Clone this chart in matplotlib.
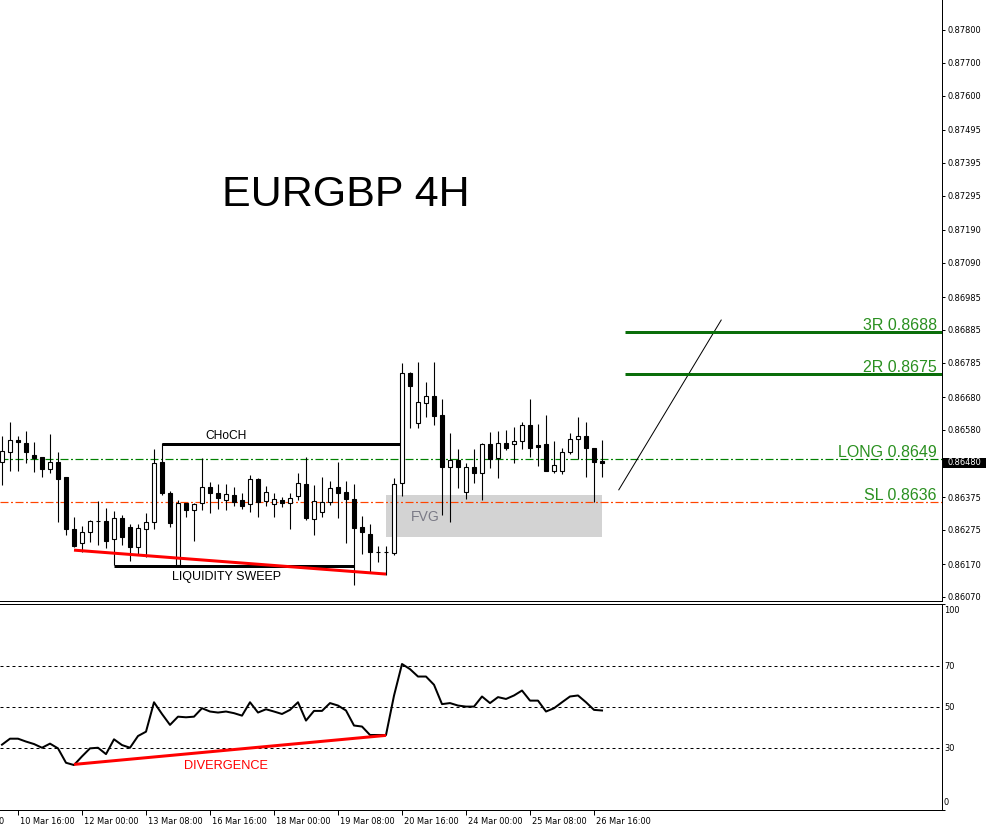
import matplotlib
matplotlib.use('Agg')
import matplotlib.pyplot as plt
import matplotlib.transforms as mtransforms
from matplotlib.patches import Rectangle
import numpy as np

# ---------------- data ----------------
opens = [0.86482, 0.86512, 0.86549, 0.86540, 0.86503, 0.86497, 0.86461, 0.86482, 0.86436, 0.86278,
         0.86235, 0.86268, 0.86302, 0.86302, 0.86247, 0.86311, 0.86284, 0.86223, 0.86278, 0.86299,
         0.86482, 0.86387, 0.86168, 0.86357, 0.86336, 0.86357, 0.86406, 0.86387, 0.86366, 0.86381,
         0.86366, 0.86354, 0.86430, 0.86363, 0.86354, 0.86366, 0.86357, 0.86378, 0.86415, 0.86308,
         0.86329, 0.86360, 0.86406, 0.86390, 0.86369, 0.86284, 0.86262, 0.86207, 0.86207, 0.86204,
         0.86418, 0.86754, 0.86601, 0.86662, 0.86683, 0.86625, 0.86467, 0.86488, 0.86390, 0.86467,
         0.86448, 0.86537, 0.86494, 0.86540, 0.86537, 0.86546, 0.86595, 0.86534, 0.86537, 0.86455,
         0.86455, 0.86512, 0.86552, 0.86561, 0.86525, 0.86485]
highs = [0.86561, 0.86604, 0.86561, 0.86577, 0.86543, 0.86497, 0.86567, 0.86512, 0.86436, 0.86314,
         0.86287, 0.86305, 0.86363, 0.86342, 0.86333, 0.86320, 0.86293, 0.86293, 0.86326, 0.86522,
         0.86540, 0.86394, 0.86366, 0.86357, 0.86357, 0.86494, 0.86421, 0.86415, 0.86415, 0.86406,
         0.86387, 0.86442, 0.86433, 0.86409, 0.86387, 0.86375, 0.86387, 0.86448, 0.86497, 0.86412,
         0.86436, 0.86424, 0.86482, 0.86424, 0.86415, 0.86317, 0.86293, 0.86226, 0.86226, 0.86433,
         0.86784, 0.86757, 0.86787, 0.86726, 0.86787, 0.86674, 0.86570, 0.86522, 0.86479, 0.86522,
         0.86540, 0.86573, 0.86577, 0.86580, 0.86589, 0.86604, 0.86674, 0.86598, 0.86625, 0.86546,
         0.86525, 0.86570, 0.86619, 0.86604, 0.86525, 0.86549]
lows = [0.86412, 0.86455, 0.86455, 0.86479, 0.86451, 0.86436, 0.86448, 0.86299, 0.86259, 0.86223,
        0.86207, 0.86238, 0.86229, 0.86220, 0.86168, 0.86229, 0.86180, 0.86201, 0.86192, 0.86278,
        0.86381, 0.86284, 0.86165, 0.86314, 0.86241, 0.86336, 0.86326, 0.86339, 0.86336, 0.86348,
        0.86339, 0.86329, 0.86314, 0.86348, 0.86314, 0.86345, 0.86278, 0.86366, 0.86305, 0.86259,
        0.86314, 0.86351, 0.86311, 0.86235, 0.86107, 0.86201, 0.86146, 0.86177, 0.86137, 0.86198,
        0.86378, 0.86586, 0.86586, 0.86619, 0.86595, 0.86320, 0.86299, 0.86403, 0.86369, 0.86418,
        0.86366, 0.86464, 0.86433, 0.86519, 0.86479, 0.86522, 0.86497, 0.86470, 0.86455, 0.86448,
        0.86445, 0.86506, 0.86491, 0.86436, 0.86360, 0.86436]
closes = [0.86516, 0.86549, 0.86543, 0.86512, 0.86494, 0.86461, 0.86482, 0.86430, 0.86278, 0.86226,
          0.86268, 0.86302, 0.86302, 0.86241, 0.86311, 0.86253, 0.86223, 0.86281, 0.86299, 0.86479,
          0.86387, 0.86296, 0.86357, 0.86336, 0.86354, 0.86406, 0.86387, 0.86372, 0.86384, 0.86360,
          0.86348, 0.86430, 0.86360, 0.86390, 0.86369, 0.86357, 0.86372, 0.86418, 0.86311, 0.86363,
          0.86360, 0.86403, 0.86387, 0.86369, 0.86281, 0.86268, 0.86207, 0.86207, 0.86207, 0.86415,
          0.86754, 0.86714, 0.86665, 0.86683, 0.86622, 0.86467, 0.86488, 0.86467, 0.86467, 0.86448,
          0.86537, 0.86491, 0.86540, 0.86525, 0.86546, 0.86595, 0.86525, 0.86528, 0.86455, 0.86473,
          0.86512, 0.86552, 0.86561, 0.86525, 0.86482, 0.86480]
rsi = [31.8, 34.7, 34.7, 33.3, 32.1, 30.3, 32.3, 30.0, 23.0, 21.9,
       26.1, 30.0, 30.3, 27.2, 34.4, 31.6, 30.3, 36.0, 38.1, 52.4,
       46.7, 41.4, 45.4, 45.1, 45.4, 49.5, 47.9, 47.4, 47.9, 47.1,
       45.9, 52.4, 47.4, 49.0, 47.9, 46.7, 48.7, 52.4, 43.5, 48.2,
       48.2, 52.0, 50.8, 48.4, 41.1, 40.6, 36.5, 36.5, 36.5, 55.6,
       71.0, 68.5, 64.9, 64.9, 60.9, 51.5, 52.0, 50.8, 50.3, 50.3,
       55.2, 52.0, 54.9, 54.0, 55.7, 58.1, 53.2, 53.2, 47.9, 49.5,
       52.4, 55.2, 55.7, 52.4, 48.7, 48.4]

time_tick_idx = [2, 10, 18, 26, 34, 42, 50, 58, 66, 74]
time_labels = ['10 Mar 16:00', '12 Mar 00:00', '13 Mar 08:00', '16 Mar 16:00', '18 Mar 00:00',
               '19 Mar 08:00', '20 Mar 16:00', '24 Mar 00:00', '25 Mar 08:00', '26 Mar 16:00']
price_ticks = [0.87800, 0.87700, 0.87600, 0.87495, 0.87395, 0.87295, 0.87190, 0.87090, 0.86985,
               0.86885, 0.86785, 0.86680, 0.86580, 0.86480, 0.86375, 0.86275, 0.86170, 0.86070]
price_tick_labels = ['0.87800', '0.87700', '0.87600', '0.87495', '0.87395', '0.87295', '0.87190',
                     '0.87090', '0.86985', '0.86885', '0.86785', '0.86680', '0.86580', '',
                     '0.86375', '0.86275', '0.86170', '0.86070']
rsi_levels = [30, 50, 70]
rsi_axis_labels = ['100', '70', '50', '30', '0']
rsi_axis_label_vals = [96.9, 70, 50, 30, 3.5]

last_price = 0.86480
long_price = 0.8649
sl_price = 0.8636
r2_price = 0.8675
r3_price = 0.8688
choch_price = 0.86537
choch_bars = (20, 49.75)
sweep_price = 0.86165
sweep_bars = (14, 44)
div_bars = (9, 48)
div_prices = (0.86213, 0.86140)
div_rsi = (22.2, 36.3)
fvg_bars = (48, 75)
fvg_prices = (0.86254, 0.86381)
proj_bars = (77.1, 89.9)
proj_prices = (0.86397, 0.86915)
target_start_bar = 77.9

# ---------------- layout ----------------
W, H, DPI = 986, 830, 100
PX = 72.0 / DPI
plt.rcParams['font.family'] = ['DejaVu Sans']
plt.rcParams['lines.scale_dashes'] = False

fig = plt.figure(figsize=(W / DPI, H / DPI), dpi=DPI)
PLOT_W = 942
ax_p = fig.add_axes([0, 1 - 601 / H, PLOT_W / W, 601 / H])
ax_r = fig.add_axes([0, 1 - 810.1 / H, PLOT_W / W, (810.1 - 604.3) / H])

xlim = (-0.25, -0.25 + PLOT_W / 8)
ppx = 3.0511e-5
ytop = 0.878915
ax_p.set_xlim(*xlim)
ax_p.set_ylim(ytop - 601 * ppx, ytop)
ax_r.set_xlim(*xlim)
ax_r.set_ylim(0, 100)

AX_FONT = 8.3 * PX
TXT_FONT = 'Liberation Sans'

for ax in (ax_p, ax_r):
    ax.set_facecolor('white')
    ax.spines['left'].set_visible(False)
    for s in ('right', 'bottom', 'top'):
        ax.spines[s].set_linewidth(PX)
        ax.spines[s].set_color('black')
ax_p.spines['top'].set_visible(False)

# ---- price pane ----
x = np.arange(len(opens))
o = np.array(opens); c = np.array(closes); h = np.array(highs); l = np.array(lows)
up = c >= o

dashdot = (0, (8 * PX, 2.5 * PX, 2 * PX, 2.5 * PX))

# FVG box
ax_p.add_patch(Rectangle((fvg_bars[0], fvg_prices[0]), fvg_bars[1] - fvg_bars[0],
                         fvg_prices[1] - fvg_prices[0], facecolor='#d3d3d3', edgecolor='none', zorder=1))
ax_p.text((fvg_bars[0] + fvg_bars[1]) / 2 - 8.6, 0.86314, 'FVG', family=TXT_FONT, fontsize=14 * PX,
          color='#7a7a86', ha='center', va='center', zorder=2)

ax_p.axhline(long_price, color='#008000', lw=1.2 * PX, ls=dashdot, zorder=2)
ax_p.axhline(sl_price, color='#ff4500', lw=1.2 * PX, ls=dashdot, zorder=2)

# candles
ax_p.vlines(x, l, h, color='black', lw=1.1 * PX, zorder=3)
ax_p.bar(x, np.abs(c - o), bottom=np.minimum(o, c), width=0.5,
         color=np.where(up, 'white', 'black'), edgecolor='black', linewidth=1.1 * PX, zorder=4)

# annotations
ax_p.plot(choch_bars, (choch_price, choch_price), color='black', lw=3 * PX, zorder=5,
          solid_capstyle='butt')
ax_p.plot(sweep_bars, (sweep_price, sweep_price), color='black', lw=3 * PX, zorder=5,
          solid_capstyle='butt')
ax_p.plot(div_bars, div_prices, color='#ff0000', lw=3 * PX, zorder=6, solid_capstyle='butt')
ax_p.text(28.06, 0.86561, 'CHoCH', family=TXT_FONT, fontsize=12 * PX, color='black',
          ha='center', va='center', zorder=6)
ax_p.text(28.06, 0.86131, 'LIQUIDITY SWEEP', family=TXT_FONT, fontsize=12.5 * PX, color='black',
          ha='center', va='center', zorder=6)

ax_p.plot(proj_bars, proj_prices, color='black', lw=PX, zorder=5)
ax_p.plot((target_start_bar, xlim[1]), (r3_price, r3_price), color='#0a6e0a', lw=3 * PX,
          zorder=5, solid_capstyle='butt')
ax_p.plot((target_start_bar, xlim[1]), (r2_price, r2_price), color='#0a6e0a', lw=3 * PX,
          zorder=5, solid_capstyle='butt')

lab_x = -0.25 + 937 / 8
green_txt = '#2a9020'
for price, txt in ((r3_price, '3R 0.8688'), (r2_price, '2R 0.8675'),
                   (long_price, 'LONG 0.8649'), (sl_price, 'SL 0.8636')):
    ax_p.text(lab_x, price + 2 * ppx, txt, family=TXT_FONT, fontsize=16 * PX, color=green_txt,
              ha='right', va='baseline', zorder=7)

ax_p.text(43.0, 0.872965, 'EURGBP 4H', family=TXT_FONT, fontsize=43 * PX, color='black',
          ha='center', va='center', zorder=7)

ax_p.set_xticks([])
ax_p.yaxis.tick_right()
ax_p.set_yticks(price_ticks)
ax_p.set_yticklabels(price_tick_labels)
ax_p.tick_params(axis='y', direction='out', length=3 * PX, width=PX, pad=2 * PX,
                 labelsize=AX_FONT, colors='black')

trans_p = mtransforms.blended_transform_factory(ax_p.transAxes, ax_p.transData)
ax_p.add_patch(Rectangle((1.0, last_price - 5 * ppx), 46 / PLOT_W, 10 * ppx, transform=trans_p,
                         facecolor='black', edgecolor='none', clip_on=False, zorder=10))
ax_p.text(1.0 + 5 / PLOT_W, last_price, '0.86480', transform=trans_p, color='white',
          fontsize=AX_FONT, ha='left', va='center', clip_on=False, zorder=11)

# ---- RSI pane ----
for lv in rsi_levels:
    ax_r.axhline(lv, color='black', lw=PX, ls=(0, (3 * PX, 3 * PX)), zorder=1)
ax_r.plot(x, rsi, color='black', lw=2 * PX, zorder=3)
ax_r.plot(div_bars, div_rsi, color='#ff0000', lw=3 * PX, zorder=4, solid_capstyle='butt')
ax_r.text(28.0, 21.5, 'DIVERGENCE', family=TXT_FONT, fontsize=12.8 * PX, color='#ff0000',
          ha='center', va='center', zorder=5)

ax_r.yaxis.tick_right()
ax_r.set_yticks([0, 100])
ax_r.set_yticklabels([])
ax_r.tick_params(axis='y', direction='out', length=3 * PX, width=PX)
trans_r = mtransforms.blended_transform_factory(ax_r.transAxes, ax_r.transData)
for lab, v in zip(rsi_axis_labels, rsi_axis_label_vals):
    ax_r.text(1.0 + 2 / PLOT_W, v, lab, transform=trans_r, fontsize=AX_FONT, color='black',
              ha='left', va='center', clip_on=False)

ax_r.set_xticks(time_tick_idx)
ax_r.set_xticklabels(time_labels, ha='left')
ax_r.tick_params(axis='x', direction='out', length=5 * PX, width=PX, pad=2 * PX,
                 labelsize=AX_FONT, colors='black')
offset = mtransforms.ScaledTranslation(1.5 / DPI, 0, fig.dpi_scale_trans)
for lab in ax_r.get_xticklabels():
    lab.set_transform(lab.get_transform() + offset)

fig.text(4 / W, 1 - 821 / H, '0', fontsize=AX_FONT, ha='right', va='center', color='black')

fig.savefig('out.png', dpi=DPI, facecolor='white')
